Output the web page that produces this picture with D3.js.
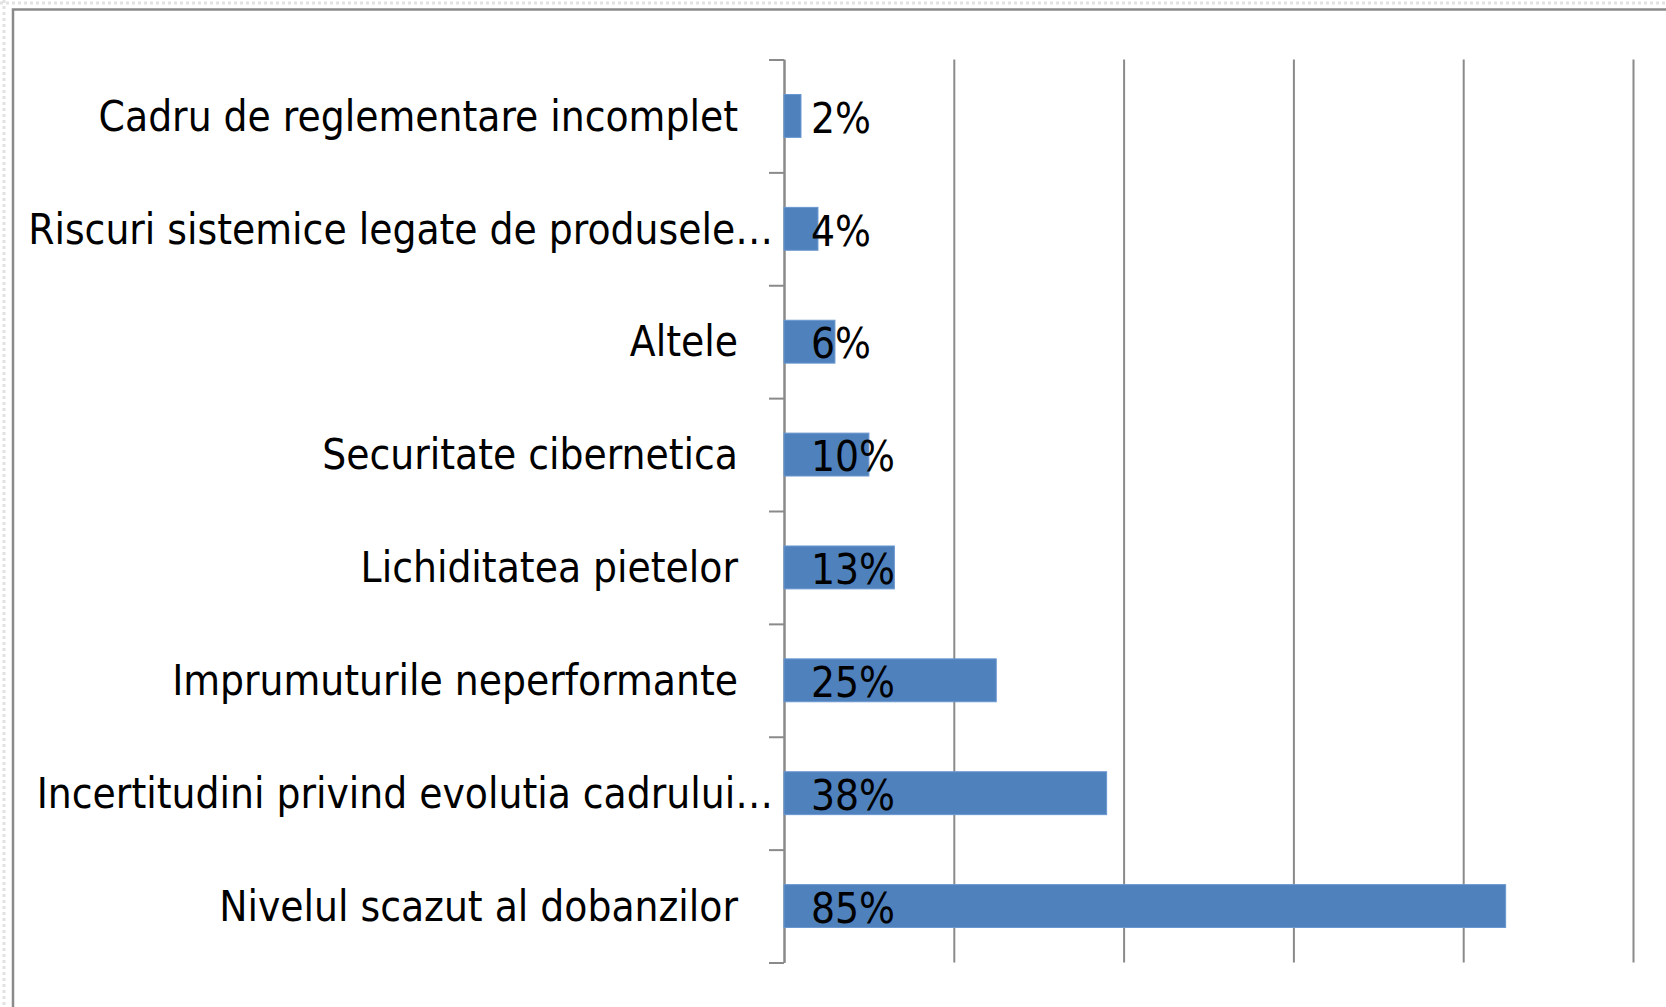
<!DOCTYPE html>
<html>
<head>
<meta charset="utf-8">
<script src="https://cdn.jsdelivr.net/npm/d3@7"></script>
<style>
    body { margin: 0; background: #fff; }
    svg text { font-family: "DejaVu Sans Condensed", "Open Sans", sans-serif; font-stretch: semi-condensed; fill: #000; }
</style>
</head>
<body>
<svg id="chart"></svg>
<script>
// categorii si valori (procente), de sus in jos
const categories = [
    'Cadru de reglementare incomplet',
    'Riscuri sistemice legate de produsele…',
    'Altele',
    'Securitate cibernetica',
    'Lichiditatea pietelor',
    'Imprumuturile neperformante',
    'Incertitudini privind evolutia cadrului…',
    'Nivelul scazut al dobanzilor'
];
const values = [2, 4, 6, 10, 13, 25, 38, 85];
const xTicks = [0, 20, 40, 60, 80, 100];

const width = 1666;
const height = 1007;
const margin = { top: 59.5, right: 33, bottom: 44.5, left: 784 };
const fontSize = 42;

const svg = d3.select('#chart')
    .attr('width', width)
    .attr('height', height);

// rama graficului (marginile din dreapta si jos ies din imagine)
svg.append('line')
    .attr('x1', 4).attr('y1', 0).attr('x2', 4).attr('y2', height)
    .attr('stroke', '#e2e2e2').attr('stroke-width', 3).attr('stroke-dasharray', '3,3');
svg.append('line')
    .attr('x1', 0).attr('y1', 3).attr('x2', width).attr('y2', 3)
    .attr('stroke', '#e2e2e2').attr('stroke-width', 3).attr('stroke-dasharray', '3,3');
svg.append('rect')
    .attr('x', 13).attr('y', 9.5)
    .attr('width', width + 50).attr('height', height + 50)
    .attr('fill', 'none')
    .attr('stroke', '#8a8a8a')
    .attr('stroke-width', 2.5);

const x = d3.scaleLinear()
    .domain([0, 100])
    .range([margin.left, width - margin.right]);

const y = d3.scaleBand()
    .domain(categories)
    .range([margin.top, height - margin.bottom])
    .paddingInner(0.62)
    .paddingOuter(0.31);

// grila verticala
const grid = svg.append('g').attr('class', 'grid')
    .attr('transform', 'translate(0,' + (height - margin.bottom) + ')')
    .call(d3.axisBottom(x)
        .tickValues(xTicks)
        .tickSize(-(height - margin.bottom - margin.top))
        .tickFormat(''));
grid.select('.domain').remove();
grid.selectAll('line').attr('stroke', '#8a8a8a').attr('stroke-width', 2);

// axa categoriilor: liniute la limitele dintre categorii
const yEdges = d3.scaleLinear()
    .domain([0, categories.length])
    .range([margin.top, height - margin.bottom]);
const yAxis = svg.append('g').attr('class', 'y-axis')
    .attr('transform', 'translate(' + margin.left + ',0)')
    .call(d3.axisLeft(yEdges)
        .tickValues(d3.range(categories.length + 1))
        .tickSize(15)
        .tickSizeOuter(0)
        .tickFormat(''));
yAxis.selectAll('line, path').attr('stroke', '#8a8a8a').attr('stroke-width', 2);

// etichetele categoriilor
svg.append('g').attr('class', 'labels')
    .selectAll('text')
    .data(categories)
    .enter().append('text')
    .attr('x', (d) => { return d.endsWith('…') ? margin.left - 11 : margin.left - 46; })
    .attr('y', (d) => { return y(d) + y.bandwidth() / 2; })
    .attr('dy', '0.35em')
    .attr('text-anchor', 'end')
    .attr('font-size', fontSize)
    .text((d) => { return d; });

// bare
svg.append('g').attr('class', 'bars')
    .selectAll('rect')
    .data(values)
    .enter().append('rect')
    .attr('x', x(0))
    .attr('y', (d, i) => { return y(categories[i]); })
    .attr('width', (d) => { return x(d) - x(0); })
    .attr('height', y.bandwidth())
    .attr('fill', '#4f81bd')
    .attr('stroke', '#6a97cf')
    .attr('stroke-width', 1);

// etichete valori (in interiorul bazei)
svg.append('g').attr('class', 'values')
    .selectAll('text')
    .data(values)
    .enter().append('text')
    .attr('x', x(0) + 27)
    .attr('y', (d, i) => { return y(categories[i]) + y.bandwidth() / 2 + 2; })
    .attr('dy', '0.35em')
    .attr('font-size', fontSize)
    .text((d) => { return d + '%'; });
</script>
</body>
</html>
